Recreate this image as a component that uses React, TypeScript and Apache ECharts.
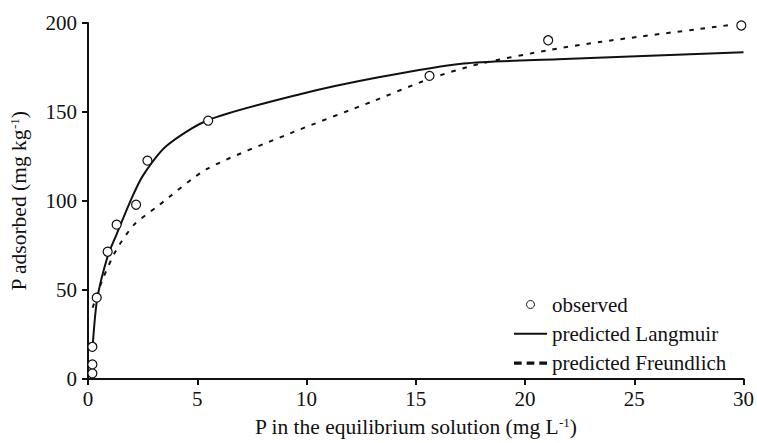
import React, { useEffect, useRef } from "react";
import * as echarts from "echarts";

const observedX = [0.2, 0.2, 0.2, 0.4, 0.9, 1.31, 2.2, 2.72, 5.5, 15.63, 21.06, 29.9];
const observedY = [3.2, 8.2, 18.1, 45.7, 71.5, 86.7, 97.9, 122.7, 145.1, 170.3, 190.3, 198.6];

const langmuirX = [0.21, 0.42, 0.9, 1.3, 1.96, 2.5, 3.6, 5.5, 9.7, 13.3, 17.2, 21.5, 30];
const langmuirY = [18, 45, 69, 81, 100.5, 114, 131, 145.5, 160, 169.5, 177.3, 179.6, 183.5];

const freundlichX = [0.21, 0.67, 1.28, 2.11, 3.18, 5.45, 9.25, 12.97, 15.6, 17.9, 21.2, 23.5, 29.6];
const freundlichY = [40, 56, 72.2, 86.7, 97, 118, 138, 155.7, 168.5, 177, 185, 189.5, 199.2];

const xTicks = { min: 0, max: 30, interval: 5 };
const yTicks = { min: 0, max: 200, interval: 50 };

const FONT = "'Liberation Serif', 'Times New Roman', serif";
const INK = "#111";

export default function App() {
  const ref = useRef<HTMLDivElement>(null);
  useEffect(() => {
    if (!ref.current) return;
    const chart = echarts.init(ref.current, undefined, { renderer: "svg" });
    const zip = (xs: number[], ys: number[]) => xs.map((x, i) => [x, ys[i]]);
    const axisCommon = {
      axisLine: { show: true, onZero: false, lineStyle: { color: INK, width: 2 } },
      axisTick: { show: true, inside: false, length: 6, lineStyle: { color: INK, width: 2 } },
      splitLine: { show: false },
      nameTextStyle: {
        fontFamily: FONT,
        fontSize: 21.5,
        color: INK,
        rich: {
          sup: { fontFamily: FONT, fontSize: 13, color: INK, verticalAlign: "top", padding: [0, 0, 8, 0] },
        },
      },
    };
    chart.setOption({
      animation: false,
      backgroundColor: "#fff",
      grid: { left: 87, right: 11, top: 23, bottom: 63, containLabel: false },
      xAxis: {
        type: "value",
        ...xTicks,
        ...axisCommon,
        name: "P in the equilibrium solution (mg L{sup|-1})",
        nameLocation: "middle",
        nameGap: 37,
        axisLabel: { fontFamily: FONT, fontSize: 21, color: INK, margin: 9 },
      },
      yAxis: {
        type: "value",
        ...yTicks,
        ...axisCommon,
        name: "P adsorbed (mg kg{sup|-1})",
        nameLocation: "middle",
        nameGap: 58,
        axisLabel: { fontFamily: FONT, fontSize: 21, color: INK, margin: 11 },
      },
      legend: {
        left: 509,
        top: 289,
        orient: "vertical",
        itemWidth: 33,
        itemHeight: 8,
        itemGap: 8.3,
        textStyle: { fontFamily: FONT, fontSize: 21, color: INK },
        data: [
          {
            name: "observed",
            icon: "circle",
            itemStyle: { color: "#fff", borderColor: INK, borderWidth: 1 },
          },
          {
            name: "predicted Langmuir",
            icon: "path://M0,0 H34 V2 H0 Z",
            itemStyle: { color: INK },
          },
          {
            name: "predicted Freundlich",
            icon: "path://M0,0 H7 V3 H0 Z M11.5,0 H18.5 V3 H11.5 Z M23,0 H30 V3 H23 Z",
            itemStyle: { color: INK },
          },
        ],
      },
      series: [
        {
          name: "predicted Langmuir",
          type: "line",
          data: zip(langmuirX, langmuirY),
          showSymbol: false,
          symbol: "none",
          smooth: 0.25,
          lineStyle: { color: INK, width: 2 },
          itemStyle: { color: INK },
          z: 2,
        },
        {
          name: "predicted Freundlich",
          type: "line",
          data: zip(freundlichX, freundlichY),
          showSymbol: false,
          symbol: "none",
          smooth: 0.25,
          lineStyle: { color: INK, width: 2, type: [4.5, 7] },
          itemStyle: { color: INK },
          z: 2,
        },
        {
          name: "observed",
          type: "scatter",
          data: zip(observedX, observedY),
          symbol: "circle",
          symbolSize: 9,
          itemStyle: { color: "#fff", borderColor: INK, borderWidth: 1.2, opacity: 1 },
          z: 5,
        },
      ],
    });
    return () => chart.dispose();
  }, []);
  return (
    <div
      ref={ref}
      style={{ position: "absolute", left: 0, top: 0, width: 757, height: 443, background: "#fff" }}
    />
  );
}
